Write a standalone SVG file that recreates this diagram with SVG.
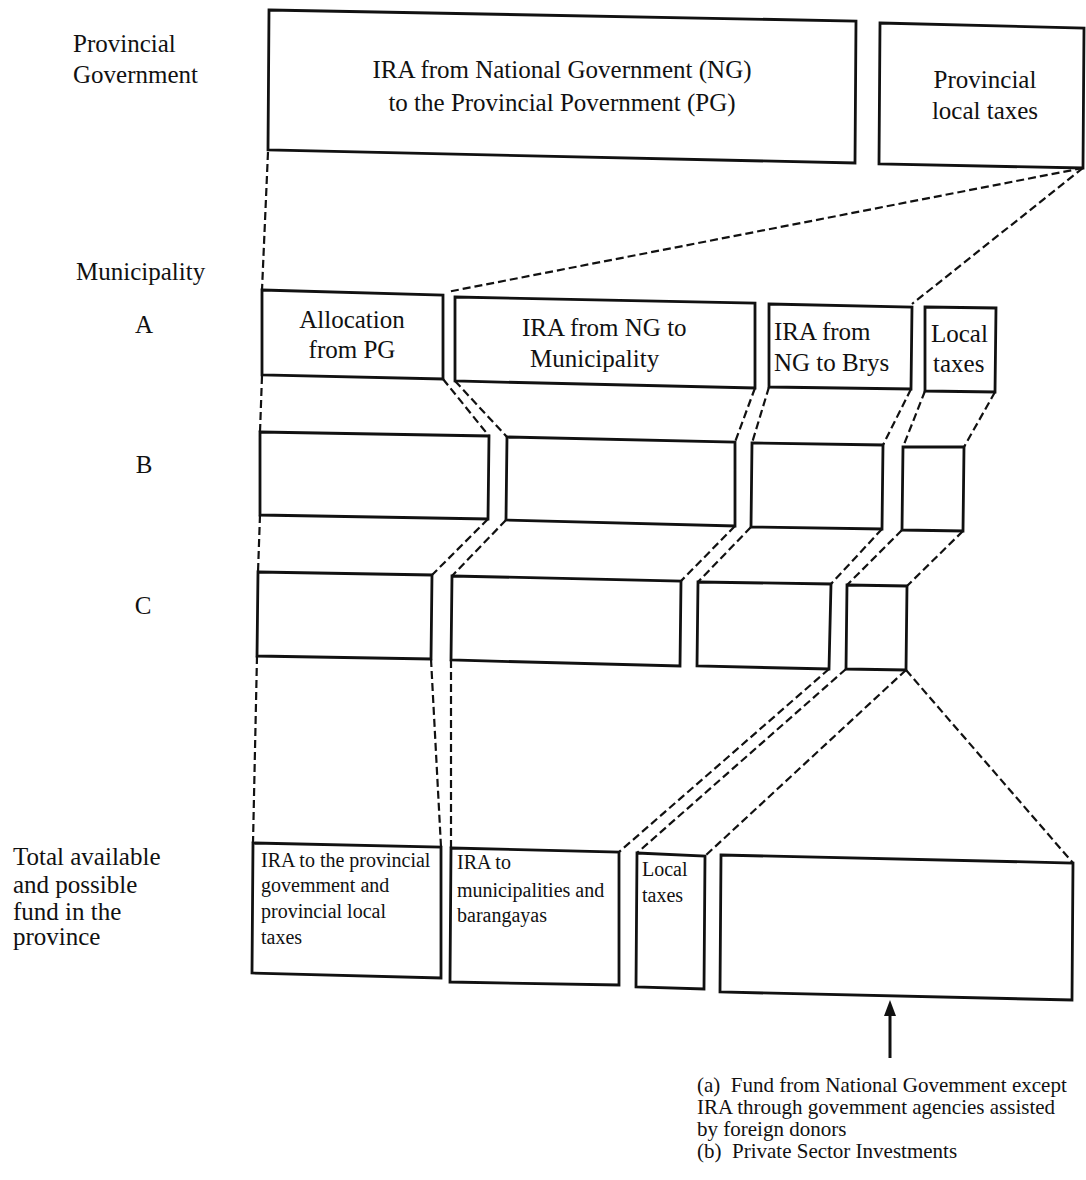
<svg xmlns="http://www.w3.org/2000/svg" width="1086" height="1180" viewBox="0 0 1086 1180">
<defs>
<style>
.box{fill:#fff;stroke:#111;stroke-width:2.8;stroke-linejoin:miter}
.dash{fill:none;stroke:#111;stroke-width:2.2;stroke-dasharray:8 4}
.lbl{font-family:"Liberation Serif","Times New Roman",serif;font-size:25px;fill:#111}
.sm{font-family:"Liberation Serif","Times New Roman",serif;font-size:20px;fill:#111}
.nt{font-family:"Liberation Serif","Times New Roman",serif;font-size:21px;fill:#111}
</style>
</defs>
<rect x="0" y="0" width="1086" height="1180" fill="#fff"/>

<g id="row-labels">
<text class="lbl" x="73" y="52">Provincial</text>
<text class="lbl" x="73" y="83">Government</text>
<text class="lbl" x="76" y="280">Municipality</text>
<text class="lbl" x="144" y="333" text-anchor="middle">A</text>
<text class="lbl" x="144" y="473" text-anchor="middle">B</text>
<text class="lbl" x="143" y="614" text-anchor="middle">C</text>
<text class="lbl" x="13" y="865">Total available</text>
<text class="lbl" x="13" y="893">and possible</text>
<text class="lbl" x="13" y="920">fund in the</text>
<text class="lbl" x="13" y="945">province</text>
</g>

<g id="connectors">
<path class="dash" d="M268,152 L262,290"/>
<path class="dash" d="M1083,168 L447,292"/>
<path class="dash" d="M1083,168 L912,304"/>
<path class="dash" d="M262,376 L260,432"/>
<path class="dash" d="M443,379 L489,436"/>
<path class="dash" d="M455,381 L507,437"/>
<path class="dash" d="M755,388 L735,442"/>
<path class="dash" d="M769,387 L752,443"/>
<path class="dash" d="M911,389 L883,445"/>
<path class="dash" d="M925,391 L903,447"/>
<path class="dash" d="M995,392 L964,447"/>
<path class="dash" d="M260,515 L258,572"/>
<path class="dash" d="M488,519 L432,575"/>
<path class="dash" d="M506,520 L452,576"/>
<path class="dash" d="M735,526 L681,581"/>
<path class="dash" d="M751,527 L698,582"/>
<path class="dash" d="M882,529 L831,584"/>
<path class="dash" d="M902,530 L847,585"/>
<path class="dash" d="M963,531 L907,586"/>
<path class="dash" d="M257,656 L253,843"/>
<path class="dash" d="M431,659 L441,847"/>
<path class="dash" d="M451,660 L451,848"/>
<path class="dash" d="M829,669 L619,852"/>
<path class="dash" d="M846,669 L637,853"/>
<path class="dash" d="M906,670 L705,856"/>
<path class="dash" d="M906,670 L1073,863"/>
<path d="M890,1058 L890,1012" stroke="#111" stroke-width="3" fill="none"/>
<polygon points="890,1000 884,1016 896,1016" fill="#111"/>
</g>

<g id="ira-ng-pg">
<polygon class="box" points="269,10 856,21 855,163 268,150"/>
<text class="lbl" x="562" y="78" text-anchor="middle">IRA from National Government (NG)</text>
<text class="lbl" x="562" y="111" text-anchor="middle">to the Provincial Povernment (PG)</text>
</g>
<g id="provincial-local-taxes">
<polygon class="box" points="880,23 1084,28 1083,168 879,164"/>
<text class="lbl" x="985" y="88" text-anchor="middle">Provincial</text>
<text class="lbl" x="985" y="119" text-anchor="middle">local taxes</text>
</g>

<g id="a-allocation">
<polygon class="box" points="262,290 443,295 443,379 262,375"/>
<text class="lbl" x="352" y="328" text-anchor="middle">Allocation</text>
<text class="lbl" x="352" y="358" text-anchor="middle">from PG</text>
</g>
<g id="a-ira-muni">
<polygon class="box" points="455,297 755,303 755,388 455,381"/>
<text class="lbl" x="522" y="336">IRA from NG to</text>
<text class="lbl" x="530" y="367">Municipality</text>
</g>
<g id="a-ira-brys">
<polygon class="box" points="769,304 912,307 911,389 769,387"/>
<text class="lbl" x="774" y="340">IRA from</text>
<text class="lbl" x="774" y="371">NG to Brys</text>
</g>
<g id="a-local">
<polygon class="box" points="925,307 996,308 995,392 925,391"/>
<text class="lbl" x="931" y="342">Local</text>
<text class="lbl" x="933" y="372">taxes</text>
</g>

<g id="b1"><polygon class="box" points="260,432 489,436 488,519 260,515"/></g>
<g id="b2"><polygon class="box" points="507,437 735,442 735,526 506,520"/></g>
<g id="b3"><polygon class="box" points="752,443 883,445 882,529 751,527"/></g>
<g id="b4"><polygon class="box" points="903,447 964,447 963,531 902,530"/></g>

<g id="c1"><polygon class="box" points="258,572 432,575 431,659 257,656"/></g>
<g id="c2"><polygon class="box" points="452,576 681,581 680,666 451,660"/></g>
<g id="c3"><polygon class="box" points="698,582 831,584 829,669 697,666"/></g>
<g id="c4"><polygon class="box" points="847,585 907,586 906,670 846,669"/></g>

<g id="d1">
<polygon class="box" points="253,843 441,847 441,978 252,973"/>
<text class="sm" x="261" y="867">IRA to the provincial</text>
<text class="sm" x="261" y="892">govemment and</text>
<text class="sm" x="261" y="918">provincial local</text>
<text class="sm" x="261" y="944">taxes</text>
</g>
<g id="d2">
<polygon class="box" points="451,848 619,852 619,985 450,982"/>
<text class="sm" x="457" y="869">IRA to</text>
<text class="sm" x="457" y="897">municipalities and</text>
<text class="sm" x="457" y="922">barangayas</text>
</g>
<g id="d3">
<polygon class="box" points="637,853 705,856 704,989 636,987"/>
<text class="sm" x="642" y="876">Local</text>
<text class="sm" x="642" y="902">taxes</text>
</g>
<g id="d4">
<polygon class="box" points="721,855 1073,863 1072,1000 720,992"/>
</g>

<g id="note">
<text class="nt" x="697" y="1092">(a)&#160; Fund from National Govemment except</text>
<text class="nt" x="697" y="1114">IRA through govemment agencies assisted</text>
<text class="nt" x="697" y="1136">by foreign donors</text>
<text class="nt" x="697" y="1158">(b)&#160; Private Sector Investments</text>
</g>
</svg>
